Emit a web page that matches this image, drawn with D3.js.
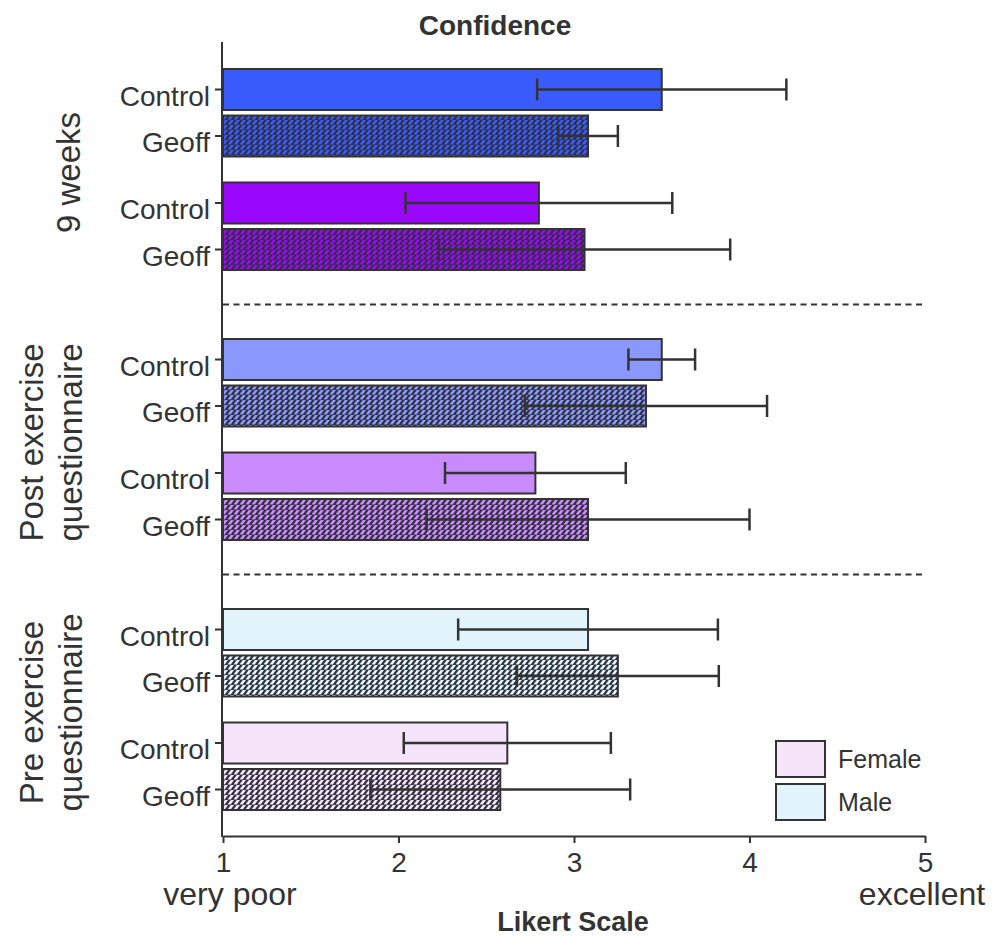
<!DOCTYPE html>
<html>
<head>
<meta charset="utf-8">
<script src="https://cdn.jsdelivr.net/npm/d3@7"></script>
<style>
  body { margin: 0; background: #fff; }
  svg { display: block; font-family: "Liberation Sans", Arial, Helvetica, sans-serif; }
</style>
</head>
<body>
<svg id="chart" width="992" height="940"></svg>
<script>
// Survey groups, sexes and conditions (top to bottom)
const groups = ["9 weeks", "Post exercise questionnaire", "Pre exercise questionnaire"];
const groupLabels = [["9 weeks"], ["Post exercise", "questionnaire"], ["Pre exercise", "questionnaire"]];
const sexes = ["Male", "Female"];
const conditions = ["Control", "Geoff"];

// Mean confidence (Likert 1–5), per group → sex → condition
const means = [
  [[3.50, 3.08], [2.80, 3.06]],
  [[3.50, 3.41], [2.78, 3.08]],
  [[3.08, 3.25], [2.62, 2.58]]
];
// Standard deviations, same layout
const sds = [
  [[0.71, 0.17], [0.76, 0.83]],
  [[0.19, 0.69], [0.515, 0.92]],
  [[0.74, 0.575], [0.59, 0.74]]
];
// Bar colours per group → sex
const colors = [
  ["#3a5bfb", "#9a08fb"],
  ["#8a98fb", "#c98bfb"],
  ["#e2f4fb", "#f5e4fa"]
];
const xTicks = [1, 2, 3, 4, 5];
const legendItems = [{ label: "Female", color: "#f5e4fa" }, { label: "Male", color: "#e2f4fb" }];

const rows = [];
groups.forEach((g, gi) => sexes.forEach((s, si) => conditions.forEach((c, ci) => {
  rows.push({ group: g, gi, sex: s, si, cond: c, ci, mean: means[gi][si][ci], sd: sds[gi][si][ci], color: colors[gi][si] });
})));

const svg = d3.select("#chart");
const ink = "#333333";

const x = d3.scaleLinear().domain([1, 5]).range([223, 925]);
const yGroup = d3.scalePoint().domain(groups).range([89.5, 629.5]);
const ySex = d3.scalePoint().domain(sexes).range([0, 113.5]);
const yCond = d3.scalePoint().domain(conditions).range([0, 46.5]);
const yc = d => yGroup(d.group) + ySex(d.sex) + yCond(d.cond);
const barH = 41;

// Hatch patterns for the Geoff bars: light diagonal dashes over dark ground
const defs = svg.append("defs");
rows.filter(d => d.cond === "Geoff").forEach(d => {
  const id = `hatch-${d.gi}-${d.si}`;
  if (!defs.select("#" + id).empty()) return;
  const p = defs.append("pattern").attr("id", id).attr("patternUnits", "userSpaceOnUse")
    .attr("width", 6).attr("height", 5);
  p.append("rect").attr("width", 6).attr("height", 5).attr("fill", "#30303a");
  p.append("polygon").attr("points", "-0.4,4.4 2.8,4.4 6.0,0 2.8,0").attr("fill", d.color);
  p.append("polygon").attr("points", "5.6,4.4 8.8,4.4 12.0,0 8.8,0").attr("fill", d.color);
});

// Title
svg.append("text").attr("x", 495).attr("y", 35).attr("text-anchor", "middle")
  .attr("font-size", 28).attr("font-weight", "bold").attr("fill", ink).text("Confidence");

// Group separators
[1, 2].forEach(i => {
  const yy = (yGroup(groups[i - 1]) + ySex("Female") + yCond("Geoff") + barH / 2 + yGroup(groups[i]) - barH / 2) / 2;
  svg.append("line").attr("x1", x(1)).attr("x2", x(5)).attr("y1", yy).attr("y2", yy)
    .attr("stroke", ink).attr("stroke-width", 2).attr("stroke-dasharray", "6,4.5");
});

// Bars
svg.append("g").selectAll("rect").data(rows).join("rect")
  .attr("x", x(1)).attr("y", d => yc(d) - barH / 2)
  .attr("width", d => x(d.mean) - x(1)).attr("height", barH)
  .attr("fill", d => d.cond === "Geoff" ? `url(#hatch-${d.gi}-${d.si})` : d.color)
  .attr("stroke", ink).attr("stroke-width", 2);

// Error bars (mean ± SD)
const eb = svg.append("g").attr("stroke", ink).attr("stroke-width", 2.5).attr("fill", "none");
rows.forEach(d => {
  const y0 = yc(d), lo = x(d.mean - d.sd), hi = x(d.mean + d.sd);
  eb.append("line").attr("x1", lo).attr("x2", hi).attr("y1", y0).attr("y2", y0);
  eb.append("line").attr("x1", lo).attr("x2", lo).attr("y1", y0 - 11).attr("y2", y0 + 11);
  eb.append("line").attr("x1", hi).attr("x2", hi).attr("y1", y0 - 11).attr("y2", y0 + 11);
});

// Y axis with row ticks and condition labels
const yAxis = svg.append("g");
yAxis.append("line").attr("x1", 222).attr("x2", 222).attr("y1", 42).attr("y2", 837)
  .attr("stroke", ink).attr("stroke-width", 2);
yAxis.selectAll("line.tick").data(rows).join("line").attr("class", "tick")
  .attr("x1", 215).attr("x2", 222).attr("y1", yc).attr("y2", yc)
  .attr("stroke", ink).attr("stroke-width", 2);
yAxis.selectAll("text").data(rows).join("text")
  .attr("x", 210).attr("y", d => yc(d) + 16).attr("text-anchor", "end")
  .attr("font-size", 28).attr("fill", ink).text(d => d.cond);

// Group labels (rotated)
groups.forEach((g, gi) => {
  const cy = (yGroup(g) + ySex("Female") + yCond("Geoff") + yGroup(g)) / 2 + 3;
  const lines = groupLabels[gi];
  const t = svg.append("text")
    .attr("transform", `translate(${lines.length === 1 ? 80 : 43},${cy}) rotate(-90)`)
    .attr("text-anchor", "middle").attr("font-size", 33).attr("fill", ink);
  lines.forEach((l, li) => {
    t.append("tspan").attr("x", 0).attr("dy", li === 0 ? 0 : 39).text(l);
  });
});

// X axis
const xAxis = svg.append("g").attr("transform", "translate(0,836)")
  .call(d3.axisBottom(x).tickValues(xTicks).tickFormat(d3.format("d")).tickSize(7).tickSizeOuter(0));
xAxis.select(".domain").attr("stroke", ink).attr("stroke-width", 2);
xAxis.selectAll(".tick line").attr("stroke", ink).attr("stroke-width", 2);
xAxis.selectAll(".tick text").attr("fill", ink).attr("font-size", 28).attr("y", 36).attr("dy", 0)
  .style("font-family", "'Liberation Sans', Arial, sans-serif");

svg.append("text").attr("x", 230).attr("y", 905).attr("text-anchor", "middle")
  .attr("font-size", 32).attr("fill", ink).text("very poor");
svg.append("text").attr("x", 922).attr("y", 905).attr("text-anchor", "middle")
  .attr("font-size", 32).attr("fill", ink).text("excellent");
svg.append("text").attr("x", 573).attr("y", 931).attr("text-anchor", "middle")
  .attr("font-size", 27).attr("font-weight", "bold").attr("fill", ink).text("Likert Scale");

// Legend
const lg = svg.append("g").selectAll("g").data(legendItems).join("g")
  .attr("transform", (d, i) => `translate(776,${741 + i * 43})`);
lg.append("rect").attr("width", 49).attr("height", 36).attr("fill", d => d.color)
  .attr("stroke", ink).attr("stroke-width", 2);
lg.append("text").attr("x", 62).attr("y", 27).attr("font-size", 25).attr("fill", ink).text(d => d.label);
</script>
</body>
</html>
